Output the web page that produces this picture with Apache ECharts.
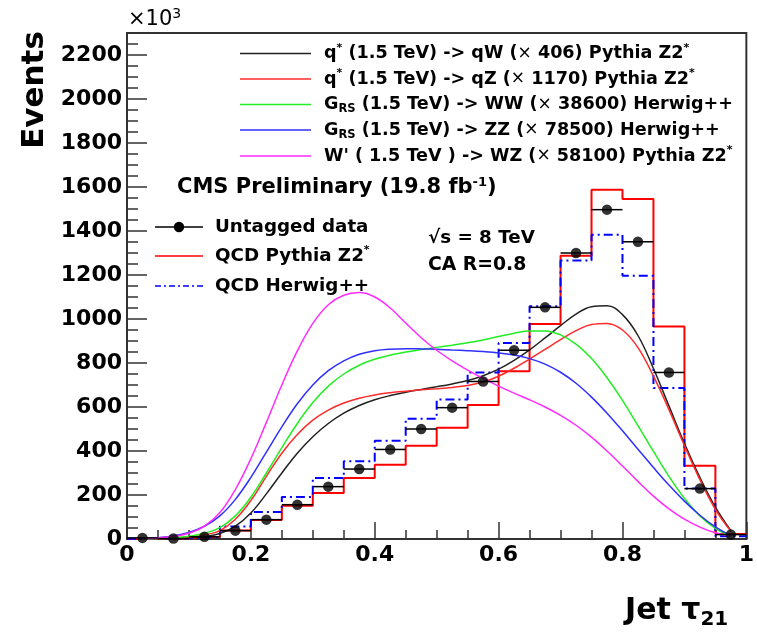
<!DOCTYPE html>
<html><head><meta charset="utf-8">
<script src="https://cdn.jsdelivr.net/npm/echarts@6/dist/echarts.min.js"></script>
<style>html,body{margin:0;padding:0;background:#fff}#c{width:757px;height:632px}</style>
</head><body><div id="c"></div>
<script>
// ---- data (Events, in units of 10^3) ----
const binEdges = [0,0.05,0.1,0.15,0.2,0.25,0.3,0.35,0.4,0.45,0.5,0.55,0.6,0.65,0.7,0.75,0.8,0.85,0.9,0.95,1.0];
const binCenters = [0.025,0.075,0.125,0.175,0.225,0.275,0.325,0.375,0.425,0.475,0.525,0.575,0.625,0.675,0.725,0.775,0.825,0.875,0.925,0.975];
const untaggedData = [5,2,10,38,88,156,238,318,407,500,597,716,858,1053,1300,1497,1351,757,229,20];
const qcdPythia = [1,2,10,39,86,151,209,277,338,424,506,609,762,977,1288,1588,1545,966,333,23];
const qcdHerwig = [1,3,9,57,123,191,277,353,447,547,634,757,891,1058,1266,1383,1197,686,229,12];

const sigX = [0.025,0.05,0.075,0.1,0.125,0.15,0.175,0.2,0.225,0.25,0.275,0.3,0.325,0.35,0.375,0.4,0.425,0.45,0.475,0.5,0.525,0.55,0.575,0.6,0.625,0.65,0.675,0.7,0.725,0.75,0.775,0.8,0.825,0.85,0.875,0.9,0.925,0.95,0.975];
const qstarQW = [0,1,2,5,11,25,58,118,205,300,390,465,525,572,607,633,652,667,680,692,705,720,742,772,812,860,914,970,1022,1056,1060,1020,925,775,605,435,280,145,38];
const qstarQZ = [0,2,4,9,18,38,90,175,285,390,475,540,586,618,640,655,665,672,678,683,689,698,714,740,776,818,862,906,947,975,980,950,870,740,588,425,270,135,35];
const grsWW = [0,2,5,12,26,52,105,190,300,415,525,620,695,750,790,817,836,850,861,871,881,892,905,920,935,946,946,928,886,820,733,630,515,398,285,185,105,48,12];
const grsZZ = [2,6,14,30,58,105,180,280,395,510,615,700,765,810,840,856,863,865,864,862,859,856,852,846,836,820,795,758,708,645,572,492,408,325,245,172,108,55,15];
const wprimeWZ = [2,5,12,26,58,120,225,365,530,700,855,980,1065,1108,1120,1100,1050,982,915,858,810,768,730,695,663,633,600,562,517,463,400,332,262,195,137,90,54,28,12];

const sigNames = [
  'q{sup|*} (1.5 TeV) -> qW ({x|×} 406) Pythia Z2{sup|*}',
  'q{sup|*} (1.5 TeV) -> qZ ({x|×} 1170) Pythia Z2{sup|*}',
  'G{sub|RS} (1.5 TeV) -> WW ({x|×} 38600) Herwig++',
  'G{sub|RS} (1.5 TeV) -> ZZ ({x|×} 78500) Herwig++',
  "W' ( 1.5 TeV ) -> WZ ({x|×} 58100) Pythia Z2{sup|*}"
];
const sigSeries = [qstarQW, qstarQZ, grsWW, grsZZ, wprimeWZ];
const sigColors = ['#222222','#ff2a2a','#22ee22','#2f2fff','#ff2cff'];

const FONT = 'DejaVu Sans';
const chart = echarts.init(document.getElementById('c'), null, {renderer:'canvas'});

const histData = vals => binEdges.map((e,i)=>[e, vals[Math.min(i, vals.length-1)]]);
const dashDot = [9,4,2,4];

const series = [];
series.push({type:'line', name:'QCD Pythia Z2*', data:histData(qcdPythia), step:'end', symbol:'none',
  lineStyle:{color:'#ff0000', width:2}, z:2, silent:true});
series.push({type:'line', name:'QCD Herwig++', data:histData(qcdHerwig), step:'end', symbol:'none',
  lineStyle:{color:'#0000ff', width:2, type:dashDot}, z:2, silent:true});
sigSeries.forEach((arr,k)=>{
  series.push({type:'line', name:'sig'+k, data:sigX.map((x,i)=>[x,arr[i]]), smooth:0.4, symbol:'none',
    lineStyle:{color:sigColors[k], width:1.5}, z:3, silent:true});
});
series.push({type:'custom', name:'errbars', z:4, silent:true,
  data: binCenters.map((c,i)=>[c, untaggedData[i]]),
  renderItem:(params, api)=>{
    const c = api.value(0), v = api.value(1);
    const p1 = api.coord([c-0.025, v]), p2 = api.coord([c+0.025, v]);
    return {type:'line', shape:{x1:p1[0],y1:p1[1],x2:p2[0],y2:p2[1]}, style:{stroke:'#000', lineWidth:1.5}};
  }});
series.push({type:'scatter', name:'Untagged data', data: binCenters.map((c,i)=>[c, untaggedData[i]]),
  symbol:'circle', symbolSize:10.5, itemStyle:{color:'#000'}, z:5, silent:true});

const richSup = {
  sup:{fontSize:11, fontWeight:'bold', fontFamily:FONT, lineHeight:11, verticalAlign:'top', fill:'#000'},
  sub:{fontSize:11.5, fontWeight:'bold', fontFamily:FONT, lineHeight:11, verticalAlign:'bottom', fill:'#000'},
  x:{fontSize:17, fontWeight:'normal', fontFamily:FONT, lineHeight:22, fill:'#000'}
};
function txt(x, y, text, size, weight, extra){
  return Object.assign({type:'text', x:x, y:y, z:10, silent:true, style:Object.assign({
    text:text, fontSize:size, fontWeight:weight||'bold', fontFamily:FONT, fill:'#000',
    align:'left', verticalAlign:'middle', textAlign:'left', textVerticalAlign:'middle',
    lineHeight:22, rich:richSup}, extra||{})});
}
const graphics = [];
const rowsY = [53.5, 79, 104.5, 130, 156];
rowsY.forEach((y,k)=>{
  graphics.push({type:'line', z:10, silent:true, shape:{x1:240,y1:y,x2:311,y2:y}, style:{stroke:sigColors[k], lineWidth:1.5}});
  graphics.push(txt(324, y, sigNames[k], 17.6, 'bold'));
});
graphics.push(txt(177, 188, 'CMS Preliminary (19.8 fb{sup|-1})', 21, 'bold', {rich:{sup:{fontSize:13,fontWeight:'bold',fontFamily:FONT,lineHeight:12,verticalAlign:'top'}}, lineHeight:24}));
// data legend
graphics.push({type:'line', z:10, silent:true, shape:{x1:155,y1:227,x2:203,y2:227}, style:{stroke:'#000', lineWidth:1.5}});
graphics.push({type:'circle', z:10, silent:true, shape:{cx:179,cy:227,r:5.2}, style:{fill:'#000'}});
graphics.push(txt(215, 227, 'Untagged data', 18.3, 'bold'));
graphics.push({type:'line', z:10, silent:true, shape:{x1:155,y1:256,x2:203,y2:256}, style:{stroke:'#ff0000', lineWidth:1.5}});
graphics.push(txt(215, 256, 'QCD Pythia Z2{sup|*}', 18.3, 'bold'));
graphics.push({type:'line', z:10, silent:true, shape:{x1:155,y1:286,x2:203,y2:286}, style:{stroke:'#0000ff', lineWidth:1.5, lineDash:[6,3,2,3]}});
graphics.push(txt(215, 286, 'QCD Herwig++', 18.3, 'bold'));
graphics.push(txt(428, 238, '√s = 8 TeV', 18.3, 'bold'));
graphics.push(txt(428, 265, 'CA R=0.8', 18.8, 'bold'));
// axis titles
graphics.push(txt(128, 20, '×10{s3|3}', 21, 'normal', {rich:{s3:{fontSize:14,fontFamily:FONT,lineHeight:14,verticalAlign:'top'}}, lineHeight:26}));
graphics.push(txt(625, 611, 'Jet τ{s21|21}', 30, 'bold', {rich:{s21:{fontSize:20,fontWeight:'bold',fontFamily:FONT,lineHeight:20,verticalAlign:'bottom'}}, lineHeight:38}));
graphics.push({type:'text', x:35, y:90, rotation:Math.PI/2, z:10, silent:true,
  style:{text:'Events', fontSize:31, fontWeight:'bold', fontFamily:FONT, fill:'#000', align:'center', verticalAlign:'middle', textAlign:'center', textVerticalAlign:'middle'}});

const axLine = {show:true, lineStyle:{color:'#333', width:2}};
chart.setOption({
  animation:false,
  backgroundColor:'#fff',
  grid:{left:127, top:33, width:620, height:506, show:true, borderColor:'#333', borderWidth:2, backgroundColor:'transparent', containLabel:false},
  xAxis:{type:'value', min:0, max:1, interval:0.2, axisLine:axLine, splitLine:{show:false},
    axisTick:{show:true, inside:true, length:17, lineStyle:{color:'#333', width:1.5}},
    minorTick:{show:true, splitNumber:4, length:9, lineStyle:{color:'#333', width:1.5}},
    axisLabel:{fontSize:22, fontWeight:'bold', fontFamily:FONT, color:'#000', margin:5,
      formatter:v=>String(+v.toFixed(1))}},
  yAxis:{type:'value', min:0, max:2300, interval:200, axisLine:axLine, splitLine:{show:false},
    axisTick:{show:true, inside:true, length:20, lineStyle:{color:'#333', width:1.5}},
    minorTick:{show:true, splitNumber:4, length:11, lineStyle:{color:'#333', width:1.5}},
    axisLabel:{fontSize:22, fontWeight:'bold', fontFamily:FONT, color:'#000', margin:5, showMaxLabel:false,
      formatter:v=>String(Math.round(v))}},
  series:series,
  graphic:graphics
});
</script></body></html>
